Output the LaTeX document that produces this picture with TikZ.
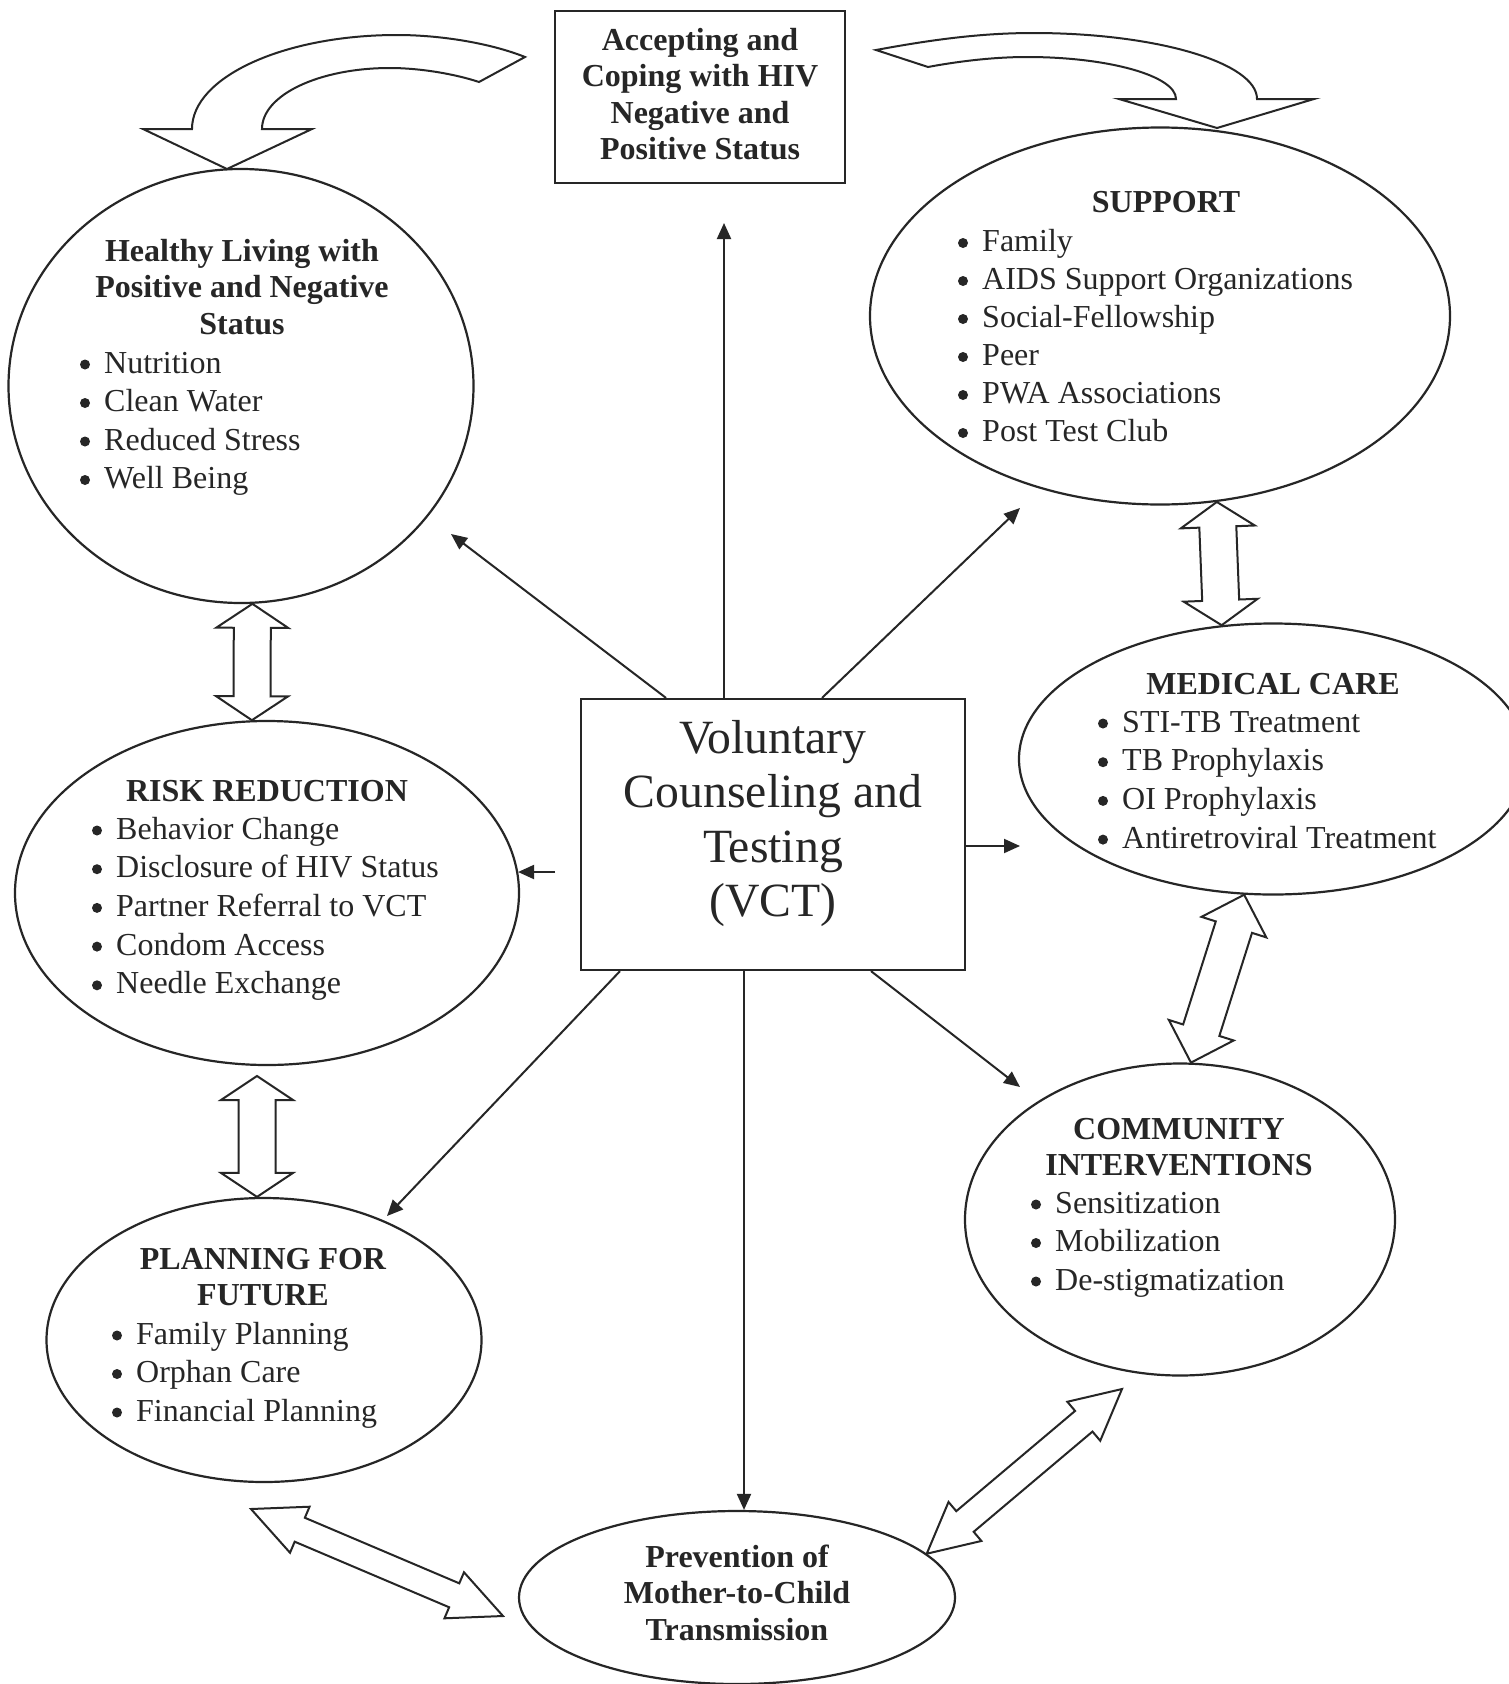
\documentclass[tikz,border=0pt]{standalone}
\usepackage{fontspec}
\setmainfont{Liberation Serif}
\usetikzlibrary{calc,shapes.geometric,arrows.meta}
\definecolor{ink}{HTML}{262626}
\tikzset{
  shapeline/.style={draw=ink, line width=2.2pt},
  oval/.style={shapeline, ellipse, inner sep=0pt},
  boxshape/.style={shapeline, rectangle, inner sep=0pt},
  ttl/.style={font=\fontsize{32}{36}\selectfont\bfseries, text=ink, anchor=base, inner sep=0pt},
  vcttxt/.style={font=\fontsize{47.7}{54}\selectfont, text=ink, anchor=base, inner sep=0pt},
  itm/.style={font=\fontsize{32}{38}\selectfont, text=ink, anchor=base west, inner sep=0pt},
  thinarrow/.style={draw=ink, line width=2pt, -{Triangle[length=16pt,width=14pt]}},
  fatline/.style={draw=ink, line width=2pt, line join=miter, fill=white},
}
\newcommand\ttllines[4]{\foreach \t [count=\i] in {#4} {\node[ttl] (#1\i) at (#2,{#3+36.5*(\i-1)}) {\t};}}
\newcommand\itemlines[5]{\foreach \t [count=\i] in {#5} {%
  \node[itm] (#1\i) at (#2,{#3+#4*(\i-1)}) {\t};
  \fill[ink] ({#2-19},{#3+#4*(\i-1)-8.5}) circle (5pt);}}
\newcommand\fatarrow[5]{%
\draw[fatline] (#1)
 -- ($(#1)!#5!(#2)!#4!90:(#2)$)
 -- ($(#1)!#5!(#2)!#3!90:(#2)$)
 -- ($(#2)!#5!(#1)!#3!-90:(#1)$)
 -- ($(#2)!#5!(#1)!#4!-90:(#1)$)
 -- (#2)
 -- ($(#2)!#5!(#1)!#4!90:(#1)$)
 -- ($(#2)!#5!(#1)!#3!90:(#1)$)
 -- ($(#1)!#5!(#2)!#3!-90:(#2)$)
 -- ($(#1)!#5!(#2)!#4!-90:(#2)$)
 -- cycle;}
\begin{document}
\begin{tikzpicture}[x=1pt,y=-1pt]
\useasboundingbox[fill=white] (0,0) rectangle (1509,1684);

% shapes
\node[boxshape, minimum width=290pt, minimum height=172pt] (acc) at (700,97) {};
\node[boxshape, minimum width=384pt, minimum height=271pt] (vct) at (773,834.5) {};
\node[oval, minimum width=465pt, minimum height=434pt] (hl) at (241,386) {};
\node[oval, minimum width=580pt, minimum height=377pt] (sup) at (1160,316) {};
\node[oval, minimum width=508pt, minimum height=271pt] (med) at (1273,759) {};
\node[oval, minimum width=504pt, minimum height=344pt] (rr) at (267,893) {};
\node[oval, minimum width=430pt, minimum height=312pt] (ci) at (1180,1219.5) {};
\node[oval, minimum width=435pt, minimum height=284pt] (pf) at (264,1340) {};
\node[oval, minimum width=436pt, minimum height=173pt] (pm) at (737,1597.5) {};

% texts
\ttllines{acct}{700}{50}{Accepting and,Coping with HIV,Negative and,Positive Status}
\foreach \t [count=\i] in {Voluntary,Counseling and,Testing,(VCT)}
  {\node[vcttxt] (vctt\i) at (773,{753+54.5*(\i-1)}) {\t};}
\ttllines{hlt}{242}{261}{Healthy Living with,Positive and Negative,Status}
\itemlines{hli}{104}{373}{38.5}{Nutrition,Clean Water,Reduced Stress,Well Being}
\ttllines{supt}{1166}{212}{SUPPORT}
\itemlines{supi}{982}{251.5}{38}{Family,AIDS Support Organizations,Social-Fellowship,Peer,PWA Associations,Post Test Club}
\ttllines{medt}{1273}{694}{MEDICAL CARE}
\itemlines{medi}{1122}{732}{38.7}{STI-TB Treatment,TB Prophylaxis,OI Prophylaxis,Antiretroviral Treatment}
\ttllines{rrt}{267}{801}{RISK REDUCTION}
\itemlines{rri}{116}{839}{38.7}{Behavior Change,Disclosure of HIV Status,Partner Referral to VCT,Condom Access,Needle Exchange}
\ttllines{cit}{1179}{1139}{COMMUNITY,INTERVENTIONS}
\itemlines{cii}{1055}{1213}{38.5}{Sensitization,Mobilization,De-stigmatization}
\ttllines{pft}{263}{1269}{PLANNING FOR,FUTURE}
\itemlines{pfi}{136}{1344}{38.5}{Family Planning,Orphan Care,Financial Planning}
\ttllines{pmt}{737}{1567}{Prevention of,Mother-to-Child,Transmission}

% thin arrows from VCT
\coordinate (e1) at (724,223);
\coordinate (e2) at (451,534);
\coordinate (e3) at (1020,508);
\coordinate (e4) at (1020,846);
\coordinate (s5) at (555,872);
\coordinate (e6) at (387,1216);
\coordinate (e8) at (1020,1087);
\draw[thinarrow] ([xshift=-49pt]vct.north) -- (e1);
\draw[thinarrow] ([xshift=-107pt]vct.north) -- (e2);
\draw[thinarrow] ([xshift=49pt]vct.north) -- (e3);
\draw[thinarrow] ([yshift=-11.5pt]vct.east) -- (e4);
\draw[thinarrow] (s5) -- (s5 -| rr.5);
\draw[thinarrow] ([xshift=-153pt]vct.south) -- (e6);
\draw[thinarrow] ([xshift=-29pt]vct.south) -- ([xshift=-29pt]vct.south |- pm.north);
\draw[thinarrow] ([xshift=98pt]vct.south) -- (e8);

% fat double arrows
\fatarrow{hl.-87}{rr.95}{18.5pt}{36pt}{24pt}
\coordinate (g2a) at (257,1076);
\coordinate (g2b) at (g2a |- pf.north);
\fatarrow{g2a}{g2b}{18.5pt}{36pt}{24pt}
\fatarrow{sup.-73}{med.111}{18.5pt}{37pt}{25pt}
\fatarrow{med.-102}{ci.86}{19pt}{34pt}{34pt}
\coordinate (g4a) at (251,1509);
\coordinate (g4b) at (503,1616);
\fatarrow{g4a}{g4b}{13pt}{25pt}{53pt}
\coordinate (g5b) at (1122,1389);
\fatarrow{pm.13}{g5b}{13.5pt}{25.5pt}{50pt}

% curved arrows at the top
\draw[fatline] (525,57) .. controls (490,43) and (440,35) .. (397,35)
  .. controls (284,35) and (192,77) .. (192,129) -- (143,129) -- (227,169) -- (312,129) -- (262,129)
  .. controls (262,95) and (319,68) .. (390,68) .. controls (420,68) and (455,74) .. (479,82) -- cycle;
\draw[fatline] (876,50) .. controls (930,40) and (980,33) .. (1033,33)
  .. controls (1157,33) and (1257,63) .. (1257,99) -- (1314,99) -- (1217,128) -- (1119,99) -- (1176,99)
  .. controls (1176,76) and (1109,57) .. (1027,57) .. controls (995,57) and (960,61) .. (928,67) -- cycle;
\end{tikzpicture}
\end{document}
